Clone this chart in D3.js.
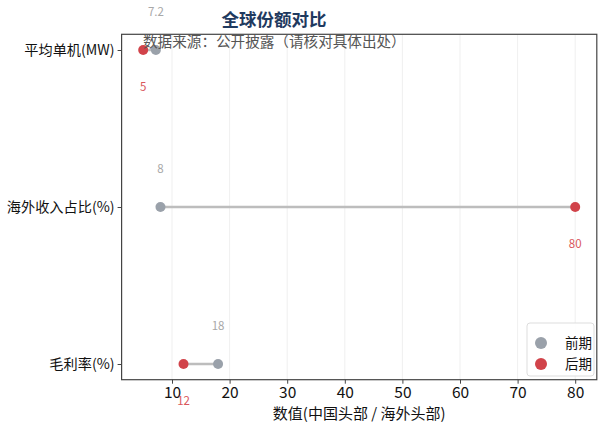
<!DOCTYPE html>
<html><head><meta charset="utf-8">
<script src="https://cdn.jsdelivr.net/npm/d3@7"></script>
<style>body{margin:0;background:#fff;} text{font-family:"Noto Sans CJK SC","Noto Sans",sans-serif;}</style>
</head><body>
<svg id="c" width="605" height="434"></svg>
<script>
const categories = ["平均单机(MW)", "海外收入占比(%)", "毛利率(%)"];
const beforeVals = [7.2, 8, 18];
const afterVals = [5, 80, 12];
const xTicks = [10, 20, 30, 40, 50, 60, 70, 80];
const seriesNames = ["前期", "后期"];

const svg = d3.select("#c");
const L = 121.6, R = 596.8, T = 34.3, B = 379.7;
const x = d3.scaleLinear().domain([1.25, 83.75]).range([L, R]);
const y = d3.scaleLinear().domain([-0.1, 2.1]).range([T, B]);
const cGray = "#9aa1aa", cRed = "#d1434a";

// grid
svg.append("g").selectAll("line").data(xTicks).join("line")
  .attr("x1", d => x(d)).attr("x2", d => x(d)).attr("y1", T).attr("y2", B)
  .attr("stroke", "#ebebeb").attr("stroke-width", 0.8);

// x axis
const xa = svg.append("g").attr("transform", `translate(0,${B})`)
  .call(d3.axisBottom(x).tickValues(xTicks).tickSize(4).tickPadding(3));
xa.select(".domain").remove();
xa.selectAll("line").attr("stroke", "#444");
xa.selectAll("text").attr("font-size", 15.5).attr("fill", "#111");

// y axis
const ya = svg.append("g").attr("transform", `translate(${L},0)`)
  .call(d3.axisLeft(y).tickValues([0,1,2]).tickFormat(i => categories[i]).tickSize(4).tickPadding(3));
ya.select(".domain").remove();
ya.selectAll("line").attr("stroke", "#444");
ya.selectAll("text").attr("font-size", 14.2).attr("fill", "#111");

// spines
svg.append("rect").attr("x", L).attr("y", T).attr("width", R - L).attr("height", B - T)
  .attr("fill", "none").attr("stroke", "#444").attr("stroke-width", 1.2);

const idx = d3.range(categories.length);
// connectors
svg.append("g").selectAll("line").data(idx).join("line")
  .attr("x1", i => x(beforeVals[i])).attr("x2", i => x(afterVals[i]))
  .attr("y1", i => y(i)).attr("y2", i => y(i))
  .attr("stroke", "#bdbdbd").attr("stroke-width", 2.5);

// dots
svg.append("g").selectAll("circle").data(idx).join("circle")
  .attr("cx", i => x(beforeVals[i])).attr("cy", i => y(i)).attr("r", 5)
  .attr("fill", cGray);
svg.append("g").selectAll("circle").data(idx).join("circle")
  .attr("cx", i => x(afterVals[i])).attr("cy", i => y(i)).attr("r", 5)
  .attr("fill", cRed);

// value labels
svg.append("g").selectAll("text").data(idx).join("text")
  .attr("x", i => x(beforeVals[i])).attr("y", i => y(i) - 34)
  .attr("text-anchor", "middle").attr("font-size", 11.5).attr("fill", "#a8a8a8")
  .text(i => beforeVals[i]);
svg.append("g").selectAll("text").data(idx).join("text")
  .attr("x", i => x(afterVals[i])).attr("y", i => y(i) + 41)
  .attr("text-anchor", "middle").attr("font-size", 11.5).attr("fill", "#d9575c")
  .text(i => afterVals[i]);

// titles
svg.append("text").attr("x", 274).attr("y", 26).attr("text-anchor", "middle")
  .attr("font-size", 17.5).attr("font-weight", "bold").attr("fill", "#1f3a5f").text("全球份额对比");
svg.append("text").attr("x", 143).attr("y", 47).attr("font-size", 14.6).attr("fill", "#555")
  .text("数据来源：公开披露（请核对具体出处）");

// x label
svg.append("text").attr("x", (L + R) / 2).attr("y", 419).attr("text-anchor", "middle")
  .attr("font-size", 15).attr("fill", "#111").text("数值(中国头部 / 海外头部)");

// legend
const lg = svg.append("g");
lg.append("rect").attr("x", 527).attr("y", 323).attr("width", 67).attr("height", 53).attr("rx", 3)
  .attr("fill", "#fff").attr("fill-opacity", 0.85).attr("stroke", "#ddd");
seriesNames.forEach((n, k) => {
  const yy = 343 + k * 21;
  lg.append("circle").attr("cx", 541).attr("cy", yy).attr("r", 6).attr("fill", k ? cRed : cGray);
  lg.append("text").attr("x", 565).attr("y", yy + 5).attr("font-size", 13.5).attr("fill", "#111").text(n);
});
</script>
</body></html>
